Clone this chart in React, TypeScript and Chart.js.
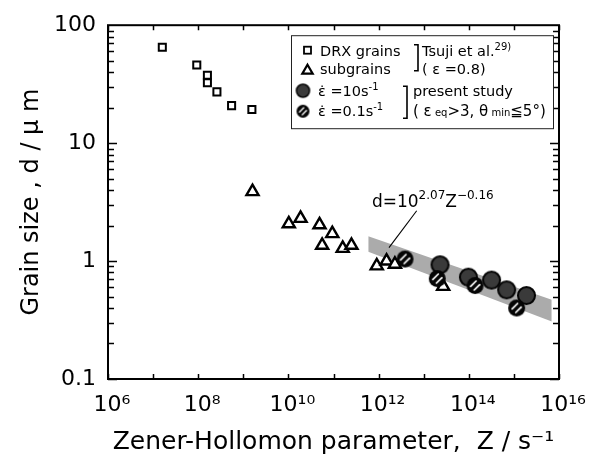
import React, { useEffect, useRef } from 'react';
import { Chart, registerables } from 'chart.js';

Chart.register(...registerables);

const FONT = "'DejaVu Sans', sans-serif";

// DRX grains (Tsuji et al.)
const drxZ = [1.6e7, 9.3e7, 1.6e8, 1.6e8, 2.6e8, 5.5e8, 1.55e9];
const drxD = [65, 46, 37.7, 32.5, 27.2, 20.8, 19.3];
// subgrains (Tsuji et al.)
const subZ = [1.6e9, 1.02e10, 1.86e10, 4.9e10, 9.4e10, 5.6e10, 1.6e11, 2.5e11, 9.1e11, 1.5e12, 2.3e12, 2.7e13];
const subD = [3.88, 2.07, 2.3, 2.03, 1.71, 1.36, 1.28, 1.36, 0.91, 1.0, 0.94, 0.61];
// present study, strain rate 10 s^-1
const fastZ = [2.3e13, 9.8e13, 3.2e14, 6.9e14, 1.9e15];
const fastD = [0.93, 0.73, 0.69, 0.57, 0.51];
// present study, strain rate 0.1 s^-1
const slowZ = [3.85e12, 2.0e13, 1.38e14, 1.15e15];
const slowD = [1.04, 0.71, 0.62, 0.4];
// shaded band d = 10^2.07 Z^-0.16
const bandZ = [5.9e11, 6.9e15];
const bandUpper = [1.62, 0.47];
const bandLower = [1.2, 0.308];
// fit label anchor and leader line (data coordinates)
const fitLabelZ = 7.1e11;
const fitLabelD = 2.88;
const leaderZ = [7.0e12, 1.7e12];
const leaderD = [2.67, 1.3];

const xTicks = [1e6, 1e8, 1e10, 1e12, 1e14, 1e16];
const yTicks = [0.1, 1, 10, 100];

const SUP: Record<string, string> = {
  '0': '⁰', '1': '¹', '2': '²', '3': '³', '4': '⁴', '5': '⁵', '6': '⁶', '7': '⁷', '8': '⁸', '9': '⁹', '-': '⁻',
};
const sup = (s: string) => s.split('').map((c) => SUP[c] ?? c).join('');

function makeFilledDot(r: number) {
  const s = Math.ceil(r * 2 + 4);
  const c = document.createElement('canvas');
  c.width = s;
  c.height = s;
  const g = c.getContext('2d')!;
  const m = s / 2;
  g.beginPath();
  g.arc(m, m, r, 0, Math.PI * 2);
  g.fillStyle = '#3a3a3a';
  g.fill();
  g.lineWidth = Math.max(1.5, r * 0.24);
  g.strokeStyle = '#050505';
  g.stroke();
  return c;
}

function makeHatchedDot(r: number) {
  const s = Math.ceil(r * 2 + 4);
  const c = document.createElement('canvas');
  c.width = s;
  c.height = s;
  const g = c.getContext('2d')!;
  const m = s / 2;
  g.beginPath();
  g.arc(m, m, r, 0, Math.PI * 2);
  g.fillStyle = '#050505';
  g.fill();
  g.strokeStyle = '#ffffff';
  g.lineWidth = Math.max(1.2, r * 0.2);
  g.lineCap = 'round';
  const off = r * 0.3;
  const len = r * 0.45;
  const d = Math.SQRT1_2;
  for (const sgn of [-1, 1]) {
    const cx = m + sgn * off * d;
    const cy = m + sgn * off * d;
    g.beginPath();
    g.moveTo(cx - len * d, cy + len * d);
    g.lineTo(cx + len * d, cy - len * d);
    g.stroke();
  }
  return c;
}

type Part = { t: string; size: number; dy?: number };
function drawRich(ctx: CanvasRenderingContext2D, x: number, y: number, parts: Part[]) {
  let cx = x;
  for (const p of parts) {
    ctx.font = `${p.size}px ${FONT}`;
    ctx.fillText(p.t, cx, y + (p.dy ?? 0));
    cx += ctx.measureText(p.t).width;
  }
  return cx;
}

function drawTriangle(ctx: CanvasRenderingContext2D, x: number, y: number, r: number, lw: number) {
  ctx.beginPath();
  for (let i = 0; i < 3; i++) {
    const a = (i * 2 * Math.PI) / 3;
    const px = x + Math.sin(a) * r;
    const py = y - Math.cos(a) * r;
    if (i === 0) ctx.moveTo(px, py);
    else ctx.lineTo(px, py);
  }
  ctx.closePath();
  ctx.fillStyle = '#fff';
  ctx.fill();
  ctx.lineWidth = lw;
  ctx.stroke();
  ctx.fillStyle = '#000';
}

function drawBracket(ctx: CanvasRenderingContext2D, x: number, y1: number, y2: number) {
  ctx.beginPath();
  ctx.moveTo(x - 4, y1);
  ctx.lineTo(x, y1);
  ctx.lineTo(x, y2);
  ctx.lineTo(x - 4, y2);
  ctx.lineWidth = 1.6;
  ctx.stroke();
}

export default function App() {
  const ref = useRef<HTMLCanvasElement | null>(null);

  useEffect(() => {
    if (!ref.current) return;
    const hatchedImg = makeHatchedDot(8.5);
    const filledImg = makeFilledDot(8.5);
    const hatchedSmall = makeHatchedDot(6.5);
    const filledSmall = makeFilledDot(6.5);

    const overlay = {
      id: 'overlay',
      afterDraw(chart: any) {
        const ctx: CanvasRenderingContext2D = chart.ctx;
        const { left, right, top, bottom } = chart.chartArea;
        const xs = chart.scales.x;
        const ys = chart.scales.y;
        ctx.save();
        ctx.strokeStyle = '#000';
        ctx.fillStyle = '#000';
        ctx.textBaseline = 'alphabetic';
        ctx.textAlign = 'left';

        // inward ticks
        ctx.lineWidth = 1.5;
        ctx.beginPath();
        for (let e = 6; e <= 16; e++) {
          const px = Math.round(xs.getPixelForValue(Math.pow(10, e))) + 0.5;
          ctx.moveTo(px, bottom);
          ctx.lineTo(px, bottom - 5);
          ctx.moveTo(px, top);
          ctx.lineTo(px, top + 5);
        }
        for (let e = -1; e <= 1; e++) {
          for (let k = 1; k <= 9; k++) {
            const py = Math.round(ys.getPixelForValue(k * Math.pow(10, e))) + 0.5;
            const len = k === 1 ? 9 : 6;
            ctx.moveTo(left, py);
            ctx.lineTo(left + len, py);
            ctx.moveTo(right, py);
            ctx.lineTo(right - len, py);
          }
        }
        ctx.stroke();

        // frame
        ctx.lineWidth = 2;
        ctx.strokeRect(left, top, right - left, bottom - top);

        // fit annotation
        const ax = xs.getPixelForValue(fitLabelZ);
        const ay = ys.getPixelForValue(fitLabelD);
        drawRich(ctx, ax, ay, [
          { t: 'd=10', size: 17 },
          { t: '2.07', size: 12, dy: -8 },
          { t: 'Z', size: 17 },
          { t: '−0.16', size: 12, dy: -8 },
        ]);
        ctx.lineWidth = 1.1;
        ctx.beginPath();
        ctx.moveTo(xs.getPixelForValue(leaderZ[0]), ys.getPixelForValue(leaderD[0]));
        ctx.lineTo(xs.getPixelForValue(leaderZ[1]), ys.getPixelForValue(leaderD[1]));
        ctx.stroke();

        // legend box
        const L = left;
        const T = top;
        ctx.fillStyle = '#fff';
        ctx.fillRect(L + 183, T + 10.5, 262, 93);
        ctx.fillStyle = '#000';
        ctx.lineWidth = 1;
        ctx.strokeStyle = '#222';
        ctx.strokeRect(L + 183.5, T + 10.5, 262, 93);
        ctx.strokeStyle = '#000';

        const LS = 14.5;
        // row 1: square
        ctx.lineWidth = 1.8;
        ctx.fillStyle = '#fff';
        ctx.fillRect(L + 196, T + 21.5, 7, 7);
        ctx.strokeRect(L + 196, T + 21.5, 7, 7);
        ctx.fillStyle = '#000';
        drawRich(ctx, L + 212, T + 30.5, [{ t: 'DRX grains', size: LS }]);
        // row 2: triangle
        drawTriangle(ctx, L + 199.5, T + 45.5, 6, 2.2);
        drawRich(ctx, L + 212, T + 49, [{ t: 'subgrains', size: LS }]);
        drawBracket(ctx, L + 310, T + 19.5, T + 45.5);
        drawRich(ctx, L + 314, T + 30.5, [
          { t: 'Tsuji et al.', size: LS },
          { t: '29)', size: 10, dy: -6 },
        ]);
        drawRich(ctx, L + 314, T + 49, [{ t: '( ε =0.8)', size: LS }]);

        // row 3 & 4: circles
        ctx.drawImage(filledSmall, L + 195 - filledSmall.width / 2, T + 65.5 - filledSmall.height / 2);
        ctx.drawImage(hatchedSmall, L + 195 - hatchedSmall.width / 2, T + 86 - hatchedSmall.height / 2);
        drawRich(ctx, L + 210, T + 70.5, [
          { t: 'ε\u0307 =10s', size: LS },
          { t: '-1', size: 10, dy: -6 },
        ]);
        drawRich(ctx, L + 210, T + 91, [
          { t: 'ε\u0307 =0.1s', size: LS },
          { t: '-1', size: 10, dy: -6 },
        ]);
        drawBracket(ctx, L + 299, T + 61, T + 93);
        drawRich(ctx, L + 305, T + 70.5, [{ t: 'present study', size: LS }]);
        drawRich(ctx, L + 305, T + 91, [
          { t: '( ε', size: 15 },
          { t: ' eq', size: 10 },
          { t: '>3, θ', size: 15 },
          { t: ' min', size: 10 },
          { t: '≦5°)', size: 15 },
        ]);
        ctx.restore();
      },
    };

    const pts = (xs: number[], ys: number[]) => xs.map((x, i) => ({ x, y: ys[i] }));

    const chart = new Chart(ref.current, {
      type: 'scatter',
      data: {
        datasets: [
          {
            label: 'ε̇ = 0.1 s⁻¹',
            data: pts(slowZ, slowD),
            pointStyle: hatchedImg as any,
            pointRadius: 8,
            order: 0,
          },
          {
            label: 'ε̇ = 10 s⁻¹',
            data: pts(fastZ, fastD),
            pointStyle: filledImg as any,
            pointRadius: 8,
            order: 1,
          },
          {
            label: 'subgrains',
            data: pts(subZ, subD),
            pointStyle: 'triangle',
            pointRadius: 7,
            borderColor: '#000',
            backgroundColor: '#fff',
            borderWidth: 2.4,
            order: 2,
          },
          {
            label: 'DRX grains',
            data: pts(drxZ, drxD),
            pointStyle: 'rect',
            pointRadius: 5,
            borderColor: '#000',
            backgroundColor: '#fff',
            borderWidth: 2,
            order: 3,
          },
          {
            label: 'band upper',
            data: pts(bandZ, bandUpper),
            showLine: true,
            pointRadius: 0,
            borderWidth: 0,
            borderColor: 'transparent',
            backgroundColor: '#ababab',
            fill: '+1',
            order: 4,
          } as any,
          {
            label: 'band lower',
            data: pts(bandZ, bandLower),
            showLine: true,
            pointRadius: 0,
            borderWidth: 0,
            borderColor: 'transparent',
            fill: false,
            order: 5,
          } as any,
        ],
      },
      options: {
        animation: false,
        responsive: false,
        events: [],
        layout: { padding: { left: 0, top: 18, right: 42, bottom: 0 } },
        plugins: { legend: { display: false }, tooltip: { enabled: false } },
        scales: {
          x: {
            type: 'logarithmic',
            min: 1e6,
            max: 1e16,
            grid: { display: false, drawTicks: false },
            border: { display: false },
            afterBuildTicks: (scale: any) => {
              scale.ticks = xTicks.map((v) => ({ value: v }));
            },
            afterFit: (scale: any) => {
              scale.height = 88;
            },
            ticks: {
              autoSkip: false,
              maxRotation: 0,
              padding: 13,
              labelOffset: 4,
              color: '#000',
              font: { family: FONT, size: 22 },
              callback: (v: any) => '10' + sup(String(Math.round(Math.log10(Number(v))))),
            },
            title: {
              display: true,
              text: 'Zener-Hollomon parameter,  Z / s' + sup('-1'),
              color: '#000',
              font: { family: FONT, size: 25 },
              padding: { top: 0, bottom: 10 },
            },
          },
          y: {
            type: 'logarithmic',
            min: 0.1,
            max: 100,
            grid: { display: false, drawTicks: false },
            border: { display: false },
            afterBuildTicks: (scale: any) => {
              scale.ticks = yTicks.map((v) => ({ value: v }));
            },
            afterFit: (scale: any) => {
              scale.width = 108;
            },
            ticks: {
              autoSkip: false,
              padding: 12,
              color: '#000',
              font: { family: FONT, size: 22 },
              callback: (v: any) => String(Number(v)),
            },
            title: {
              display: true,
              text: 'Grain size , d / μ m',
              color: '#000',
              font: { family: FONT, size: 24 },
              padding: { top: 17, bottom: 0 },
            },
          },
        },
      },
      plugins: [overlay],
    });

    return () => chart.destroy();
  }, []);

  return (
    <div style={{ position: 'absolute', left: 0, top: 0, width: 601, height: 467, background: '#fff' }}>
      <canvas ref={ref} width={601} height={467} style={{ display: 'block' }} />
    </div>
  );
}
